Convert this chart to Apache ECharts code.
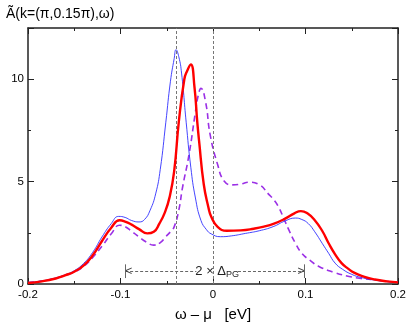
<!DOCTYPE html>
<html><head><meta charset="utf-8">
<script src="https://cdn.jsdelivr.net/npm/echarts@6/dist/echarts.min.js"></script>
<style>html,body{margin:0;padding:0;background:#fff}#c{width:409px;height:327px}</style>
</head><body><div id="c"></div>
<script>
const titleText = 'Ã(k=(π,0.15π),ω)';
const xAxisName = 'ω – μ   [eV]';
const xTicks = [-0.2, -0.1, 0, 0.1, 0.2];
const yTicks = [0, 5, 10];

const xBlue = [-0.200,-0.185,-0.170,-0.160,-0.150,-0.140,-0.130,-0.120,-0.110,-0.102,-0.095,-0.088,-0.080,-0.074,-0.068,-0.062,-0.057,-0.051,-0.046,-0.042,-0.040,-0.037,-0.034,-0.029,-0.024,-0.019,-0.013,-0.007,-0.002,0.008,0.020,0.035,0.050,0.065,0.078,0.089,0.096,0.103,0.110,0.118,0.125,0.132,0.140,0.150,0.160,0.175,0.190,0.200];
const yBlue = [0.07,0.15,0.30,0.45,0.65,1.00,1.55,2.30,2.95,3.30,3.25,3.10,3.03,3.15,3.60,4.40,5.60,7.90,9.90,11.0,11.44,11.1,10.3,7.9,5.70,4.20,3.10,2.65,2.45,2.31,2.35,2.47,2.60,2.80,3.08,3.22,3.15,2.95,2.55,1.99,1.50,1.02,0.72,0.47,0.32,0.19,0.11,0.08];

const xRed = [-0.200,-0.185,-0.170,-0.160,-0.150,-0.140,-0.130,-0.120,-0.110,-0.101,-0.095,-0.088,-0.080,-0.071,-0.064,-0.058,-0.052,-0.047,-0.042,-0.037,-0.031,-0.028,-0.024,-0.020,-0.017,-0.015,-0.010,-0.005,-0.002,0.005,0.015,0.030,0.044,0.055,0.066,0.078,0.088,0.095,0.102,0.110,0.118,0.125,0.132,0.139,0.146,0.153,0.163,0.175,0.188,0.200];
const yRed = [0.05,0.13,0.27,0.42,0.60,0.90,1.40,2.10,2.75,3.11,3.05,2.90,2.68,2.47,2.55,2.95,3.50,4.23,5.50,7.90,10.0,10.4,10.72,9.60,7.90,6.96,4.87,3.75,3.30,2.79,2.60,2.62,2.70,2.80,2.95,3.19,3.45,3.56,3.45,3.11,2.60,1.99,1.45,1.02,0.75,0.54,0.36,0.22,0.13,0.08];

const xPurple = [-0.200,-0.185,-0.170,-0.160,-0.150,-0.140,-0.130,-0.120,-0.110,-0.101,-0.095,-0.088,-0.080,-0.072,-0.064,-0.057,-0.051,-0.046,-0.042,-0.037,-0.033,-0.026,-0.019,-0.016,-0.013,-0.008,-0.003,0.005,0.012,0.021,0.030,0.039,0.050,0.060,0.066,0.071,0.077,0.082,0.089,0.096,0.105,0.114,0.130,0.146,0.160,0.175,0.190,0.200];
const yPurple = [0.07,0.14,0.28,0.42,0.58,0.85,1.30,1.85,2.45,2.87,2.80,2.58,2.30,2.05,1.90,2.02,2.31,2.55,2.79,3.60,4.70,6.30,8.40,9.20,9.55,8.88,7.27,5.83,5.03,4.84,4.88,4.97,4.85,4.39,4.10,3.75,3.15,2.64,2.00,1.50,1.15,0.87,0.58,0.38,0.27,0.20,0.12,0.09];

const refLinesX = [-0.04, 0];
const annoBounds = [-0.095, 0.099];
const annoGap = [-0.018, 0.027];
const annoY = 0.62;
const annoBarY = [0.29, 0.96];
const annoTextX = 0.0045;

const pair = (xs, ys) => xs.map((x, i) => [x, ys[i]]);
const FONT = 'Liberation Sans, Arial, sans-serif';
const fmtX = v => Math.abs(v) < 1e-9 ? '0' : (Math.round(v * 10) / 10).toFixed(1);
const fmtY = v => yTicks.some(t => Math.abs(t - v) < 1e-9) ? String(Math.round(v)) : '';
const axisLine = { show: true, onZero: false, lineStyle: { color: '#222', width: 1.5 } };
const axisTick = { show: true, inside: true, length: 6, lineStyle: { color: '#222', width: 1 } };
const minorTick = { show: true, splitNumber: 2, length: 3, lineStyle: { color: '#222', width: 1 } };
const gray = '#666';

const chart = echarts.init(document.getElementById('c'), null, { renderer: 'canvas' });
chart.setOption({
  backgroundColor: '#fff',
  animation: false,
  title: { text: titleText, left: 1, top: 2, textStyle: { fontFamily: FONT, fontSize: 14, fontWeight: 'normal', color: '#000' } },
  grid: { left: 28, right: 9, top: 28, bottom: 39, containLabel: false },
  xAxis: [
    { type: 'value', min: xTicks[0], max: xTicks[xTicks.length - 1], interval: 0.1, position: 'bottom',
      name: xAxisName, nameLocation: 'middle', nameGap: 23,
      nameTextStyle: { fontFamily: FONT, fontSize: 15, color: '#000' },
      axisLine, axisTick, minorTick, splitLine: { show: false },
      axisLabel: { formatter: fmtX, fontFamily: FONT, fontSize: 11.5, color: '#000', margin: 5 } },
    { type: 'value', min: xTicks[0], max: xTicks[xTicks.length - 1], interval: 0.1, position: 'top',
      axisLine, axisTick, minorTick, splitLine: { show: false }, axisLabel: { show: false } }
  ],
  yAxis: [
    { type: 'value', min: 0, max: 12.5, interval: 5, position: 'left',
      axisLine, axisTick, minorTick, splitLine: { show: false },
      axisLabel: { formatter: fmtY, fontFamily: FONT, fontSize: 11.5, color: '#000', margin: 4 } },
    { type: 'value', min: 0, max: 12.5, interval: 5, position: 'right',
      axisLine, axisTick, minorTick, splitLine: { show: false }, axisLabel: { show: false } }
  ],
  series: [
    { type: 'line', data: pair(xPurple, yPurple), showSymbol: false, smooth: 0.5,
      lineStyle: { color: '#9b30e6', width: 1.6, type: [6, 4] }, z: 3 },
    { type: 'line', data: pair(xBlue, yBlue), showSymbol: false, smooth: 0.5,
      lineStyle: { color: '#3030ff', width: 0.9 }, z: 4 },
    { type: 'line', data: pair(xRed, yRed), showSymbol: false, smooth: 0.5,
      lineStyle: { color: '#ff0000', width: 2.4 }, z: 5,
      markLine: {
        silent: true, symbol: ['none', 'none'], animation: false,
        label: { show: false },
        data: [
          ...refLinesX.map(x => [{ coord: [x, 0], lineStyle: { color: '#777', width: 1, type: [3, 2] } }, { coord: [x, 12.5] }]),
          [{ coord: [annoBounds[0], annoY], lineStyle: { color: gray, width: 1, type: [3, 2] } }, { coord: [annoGap[0], annoY] }],
          [{ coord: [annoGap[1], annoY], lineStyle: { color: gray, width: 1, type: [3, 2] } }, { coord: [annoBounds[1], annoY] }],
          ...annoBounds.map(x => [{ coord: [x, annoBarY[0]], lineStyle: { color: gray, width: 1, type: 'solid' } }, { coord: [x, annoBarY[1]] }])
        ]
      },
      markPoint: {
        silent: true, symbol: 'circle', symbolSize: 0, animation: false,
        data: [
          { coord: [annoBounds[0], annoY], label: { show: true, formatter: '<', position: 'right', distance: 0, fontFamily: FONT, fontSize: 12, color: '#444' } },
          { coord: [annoBounds[1], annoY], label: { show: true, formatter: '>', position: 'left', distance: 0, fontFamily: FONT, fontSize: 12, color: '#444' } },
          { coord: [annoTextX, annoY], label: { show: true, position: 'inside', formatter: '2 × Δ{s|PG}', fontFamily: FONT, fontSize: 13, color: '#222',
              rich: { s: { fontFamily: FONT, fontSize: 9, color: '#222', verticalAlign: 'bottom', padding: [6, 0, 0, 0] } } } }
        ]
      }
    }
  ]
});
</script></body></html>
